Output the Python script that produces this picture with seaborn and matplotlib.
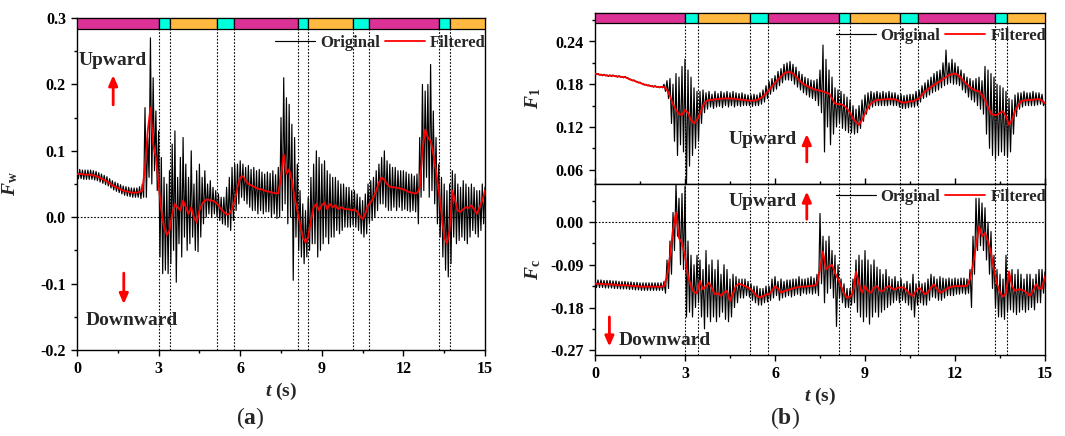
import numpy as np
import matplotlib
matplotlib.use("Agg")
import matplotlib.pyplot as plt
import seaborn as sns
from matplotlib.ticker import MultipleLocator, FormatStrFormatter

# ---------------- data ----------------
DT_RAW = 0.05   # s, sampling of the "Original" traces
DT_FILT = 0.1   # s, sampling of the "Filtered" traces

fw_raw = [
    0.072, 0.058, 0.072, 0.058, 0.071, 0.057, 0.071, 0.057, 0.071, 0.057,
    0.071, 0.057, 0.070, 0.056, 0.069, 0.055, 0.067, 0.053, 0.065, 0.051,
    0.063, 0.049, 0.061, 0.047, 0.058, 0.044, 0.055, 0.041, 0.053, 0.039,
    0.051, 0.037, 0.049, 0.035, 0.047, 0.033, 0.046, 0.032, 0.045, 0.031,
    0.044, 0.030, 0.044, 0.030, 0.044, 0.030, 0.046, 0.028, 0.050, 0.030,
    0.165, 0.030, 0.120, 0.060, 0.270, 0.050, 0.210, 0.070, 0.160, 0.040,
    0.130, -0.060, 0.090, -0.085, 0.060, -0.080, 0.050, -0.085, 0.070, -0.070,
    0.110, -0.050, 0.130, -0.098, 0.060, -0.040, 0.090, -0.060, 0.120, -0.030,
    0.080, -0.050, 0.060, -0.040, 0.100, -0.030, 0.050, -0.050, 0.070, -0.052,
    0.080, -0.030, 0.060, -0.010, 0.070, 0.000, 0.050, 0.005, 0.055, 0.000,
    0.045, 0.005, 0.040, 0.000, 0.035, -0.005, 0.030, -0.010, 0.030, -0.012,
    0.045, -0.015, 0.060, -0.020, 0.075, -0.005, 0.080, 0.010, 0.080, 0.020,
    0.085, 0.030, 0.080, 0.025, 0.075, 0.020, 0.078, 0.015, 0.072, 0.010,
    0.075, 0.010, 0.070, 0.005, 0.072, 0.010, 0.068, 0.005, 0.065, 0.008,
    0.068, 0.008, 0.066, 0.000, 0.070, 0.005, 0.064, -0.002, 0.075, 0.000,
    0.150, 0.010, 0.210, 0.020, 0.180, -0.010, 0.170, 0.000, 0.140, -0.095,
    0.120, -0.030, 0.080, -0.050, 0.040, -0.060, 0.020, -0.070, 0.010, -0.060,
    0.030, -0.050, 0.060, -0.040, 0.080, -0.040, 0.100, -0.060, 0.090, -0.050,
    0.080, -0.040, 0.085, -0.030, 0.070, -0.040, 0.065, -0.030, 0.060, -0.030,
    0.060, -0.020, 0.055, -0.025, 0.050, -0.020, 0.050, -0.015, 0.045, -0.015,
    0.045, -0.015, 0.040, -0.012, 0.040, -0.015, 0.035, -0.020, 0.030, -0.025,
    0.025, -0.030, 0.035, -0.025, 0.050, -0.010, 0.055, -0.005, 0.060, 0.000,
    0.070, 0.010, 0.080, 0.020, 0.090, 0.020, 0.100, 0.015, 0.085, 0.010,
    0.080, 0.010, 0.075, 0.015, 0.075, 0.010, 0.070, 0.015, 0.070, 0.010,
    0.070, 0.012, 0.068, 0.010, 0.065, 0.008, 0.065, 0.010, 0.062, 0.008,
    0.065, -0.010, 0.120, 0.030, 0.200, 0.040, 0.190, 0.060, 0.200, 0.030,
    0.230, 0.040, 0.160, 0.020, 0.120, -0.010, 0.080, -0.030, 0.060, -0.060,
    0.050, -0.080, 0.040, -0.090, 0.050, -0.070, 0.070, -0.030, 0.065, -0.040,
    0.050, -0.035, 0.045, -0.030, 0.055, -0.035, 0.050, -0.040, 0.045, -0.030,
    0.050, -0.020, 0.045, -0.025, 0.040, -0.030, 0.040, -0.020, 0.050, -0.010,
    0.045,
]

fw_filt = [
    0.065, 0.065, 0.065, 0.064, 0.064, 0.064, 0.063, 0.062, 0.060, 0.058,
    0.056, 0.054, 0.051, 0.048, 0.046, 0.044, 0.042, 0.040, 0.039, 0.038,
    0.037, 0.037, 0.037, 0.038, 0.040, 0.075, 0.130, 0.165, 0.110, 0.090,
    0.050, 0.010, -0.015, -0.027, -0.020, 0.005, 0.020, 0.015, 0.010, 0.025,
    0.015, 0.005, 0.015, 0.000, -0.008, 0.010, 0.020, 0.025, 0.027, 0.025,
    0.025, 0.022, 0.018, 0.012, 0.008, 0.004, 0.005, 0.012, 0.025, 0.045,
    0.060, 0.062, 0.055, 0.050, 0.048, 0.046, 0.044, 0.042, 0.042, 0.040,
    0.039, 0.038, 0.037, 0.036, 0.036, 0.060, 0.095, 0.065, 0.072, 0.055,
    0.030, 0.010, -0.010, -0.030, -0.038, -0.030, -0.005, 0.015, 0.020, 0.010,
    0.018, 0.022, 0.012, 0.020, 0.015, 0.018, 0.012, 0.015, 0.013, 0.012,
    0.012, 0.010, 0.012, 0.008, 0.002, -0.003, 0.005, 0.018, 0.022, 0.030,
    0.040, 0.052, 0.060, 0.056, 0.050, 0.046, 0.045, 0.045, 0.044, 0.043,
    0.042, 0.040, 0.038, 0.037, 0.036, 0.036, 0.045, 0.100, 0.132, 0.120,
    0.115, 0.095, 0.070, 0.040, 0.005, -0.030, -0.040, -0.020, 0.040, 0.025,
    0.010, 0.008, 0.012, 0.015, 0.014, 0.018, 0.012, 0.005, 0.015, 0.025,
    0.040,
]

fl_raw = [
    0.196, 0.194, 0.195, 0.193, 0.194, 0.192, 0.194, 0.192, 0.193, 0.191,
    0.193, 0.191, 0.193, 0.191, 0.192, 0.190, 0.192, 0.190, 0.191, 0.189,
    0.191, 0.189, 0.189, 0.187, 0.187, 0.185, 0.186, 0.184, 0.184, 0.182,
    0.183, 0.181, 0.181, 0.179, 0.180, 0.178, 0.179, 0.177, 0.178, 0.176,
    0.178, 0.176, 0.177, 0.175, 0.177, 0.175, 0.180, 0.170, 0.185, 0.160,
    0.188, 0.125, 0.180, 0.100, 0.195, 0.080, 0.190, 0.095, 0.205, 0.085,
    0.215, 0.040, 0.200, 0.065, 0.190, 0.080, 0.175, 0.090, 0.170, 0.100,
    0.170, 0.125, 0.172, 0.140, 0.168, 0.145, 0.170, 0.148, 0.166, 0.146,
    0.170, 0.148, 0.167, 0.149, 0.170, 0.147, 0.168, 0.150, 0.170, 0.148,
    0.168, 0.150, 0.170, 0.148, 0.168, 0.150, 0.167, 0.149, 0.168, 0.150,
    0.166, 0.150, 0.165, 0.150, 0.165, 0.149, 0.166, 0.150, 0.165, 0.150,
    0.168, 0.152, 0.172, 0.155, 0.178, 0.160, 0.184, 0.166, 0.188, 0.170,
    0.192, 0.173, 0.198, 0.178, 0.202, 0.182, 0.208, 0.186, 0.210, 0.186,
    0.212, 0.185, 0.208, 0.180, 0.204, 0.176, 0.198, 0.172, 0.194, 0.168,
    0.190, 0.165, 0.188, 0.162, 0.186, 0.160, 0.185, 0.157, 0.187, 0.150,
    0.200, 0.140, 0.235, 0.085, 0.215, 0.120, 0.200, 0.095, 0.190, 0.110,
    0.175, 0.120, 0.172, 0.125, 0.170, 0.118, 0.166, 0.115, 0.162, 0.112,
    0.158, 0.112, 0.150, 0.110, 0.145, 0.112, 0.150, 0.118, 0.158, 0.128,
    0.165, 0.138, 0.168, 0.145, 0.170, 0.148, 0.168, 0.150, 0.170, 0.150,
    0.168, 0.150, 0.170, 0.150, 0.168, 0.150, 0.170, 0.151, 0.168, 0.150,
    0.168, 0.150, 0.165, 0.148, 0.166, 0.146, 0.164, 0.146, 0.165, 0.147,
    0.166, 0.148, 0.166, 0.148, 0.170, 0.150, 0.172, 0.155, 0.178, 0.160,
    0.182, 0.162, 0.186, 0.165, 0.190, 0.168, 0.195, 0.170, 0.198, 0.172,
    0.200, 0.175, 0.210, 0.178, 0.228, 0.180, 0.210, 0.182, 0.215, 0.180,
    0.210, 0.180, 0.205, 0.178, 0.200, 0.172, 0.195, 0.168, 0.190, 0.162,
    0.188, 0.158, 0.185, 0.155, 0.188, 0.150, 0.190, 0.145, 0.185, 0.138,
    0.205, 0.110, 0.200, 0.090, 0.195, 0.080, 0.190, 0.075, 0.180, 0.080,
    0.178, 0.085, 0.175, 0.080, 0.170, 0.078, 0.160, 0.085, 0.158, 0.110,
    0.165, 0.135, 0.168, 0.145, 0.168, 0.148, 0.170, 0.150, 0.168, 0.150,
    0.168, 0.150, 0.170, 0.150, 0.168, 0.151, 0.168, 0.152, 0.166, 0.150,
    0.155,
]

fl_filt = [
    0.195, 0.194, 0.193, 0.193, 0.192, 0.192, 0.192, 0.191, 0.191, 0.190,
    0.190, 0.188, 0.186, 0.185, 0.183, 0.182, 0.180, 0.179, 0.178, 0.177,
    0.177, 0.176, 0.176, 0.176, 0.172, 0.163, 0.152, 0.144, 0.138, 0.137,
    0.144, 0.140, 0.130, 0.125, 0.130, 0.139, 0.150, 0.156, 0.158, 0.158,
    0.159, 0.159, 0.160, 0.160, 0.160, 0.160, 0.160, 0.159, 0.159, 0.158,
    0.158, 0.157, 0.157, 0.157, 0.158, 0.160, 0.163, 0.167, 0.172, 0.177,
    0.182, 0.187, 0.191, 0.195, 0.197, 0.197, 0.195, 0.191, 0.186, 0.182,
    0.179, 0.177, 0.175, 0.173, 0.172, 0.171, 0.170, 0.168, 0.167, 0.160,
    0.153, 0.152, 0.152, 0.150, 0.146, 0.140, 0.132, 0.127, 0.123, 0.130,
    0.139, 0.147, 0.153, 0.156, 0.158, 0.158, 0.159, 0.159, 0.159, 0.159,
    0.159, 0.157, 0.155, 0.154, 0.155, 0.156, 0.156, 0.158, 0.160, 0.165,
    0.170, 0.173, 0.176, 0.179, 0.182, 0.184, 0.187, 0.190, 0.193, 0.194,
    0.195, 0.193, 0.189, 0.184, 0.180, 0.176, 0.173, 0.171, 0.170, 0.165,
    0.158, 0.148, 0.139, 0.137, 0.137, 0.140, 0.142, 0.135, 0.123, 0.130,
    0.142, 0.150, 0.156, 0.157, 0.158, 0.158, 0.158, 0.159, 0.159, 0.157,
    0.153,
]

fc_raw = [
    -0.122, -0.138, -0.122, -0.138, -0.122, -0.138, -0.123, -0.139, -0.123, -0.139,
    -0.123, -0.139, -0.124, -0.140, -0.124, -0.140, -0.125, -0.141, -0.125, -0.141,
    -0.125, -0.141, -0.126, -0.142, -0.126, -0.142, -0.127, -0.143, -0.127, -0.143,
    -0.128, -0.144, -0.128, -0.144, -0.128, -0.144, -0.128, -0.144, -0.128, -0.144,
    -0.128, -0.144, -0.128, -0.144, -0.128, -0.144, -0.125, -0.150, -0.080, -0.140,
    -0.040, -0.110, 0.020, -0.060, 0.080, -0.030, 0.050, -0.090, 0.060, -0.100,
    0.075, -0.200, -0.040, -0.190, -0.070, -0.200, -0.090, -0.180, -0.070, -0.170,
    -0.080, -0.200, -0.100, -0.225, -0.060, -0.200, -0.090, -0.210, -0.080, -0.200,
    -0.100, -0.210, -0.080, -0.200, -0.110, -0.190, -0.090, -0.205, -0.100, -0.210,
    -0.120, -0.200, -0.110, -0.180, -0.115, -0.170, -0.120, -0.160, -0.120, -0.160,
    -0.120, -0.155, -0.125, -0.158, -0.130, -0.165, -0.135, -0.170, -0.135, -0.175,
    -0.140, -0.175, -0.140, -0.170, -0.135, -0.168, -0.135, -0.165, -0.120, -0.160,
    -0.115, -0.155, -0.125, -0.165, -0.120, -0.160, -0.125, -0.158, -0.122, -0.155,
    -0.122, -0.158, -0.120, -0.155, -0.120, -0.152, -0.115, -0.155, -0.120, -0.150,
    -0.120, -0.152, -0.118, -0.150, -0.115, -0.152, -0.118, -0.150, -0.110, -0.155,
    0.018, -0.130, -0.030, -0.170, -0.040, -0.150, -0.030, -0.140, -0.060, -0.160,
    -0.070, -0.220, -0.090, -0.160, -0.120, -0.170, -0.130, -0.180, -0.140, -0.180,
    -0.140, -0.175, -0.120, -0.170, -0.080, -0.190, -0.070, -0.200, -0.080, -0.210,
    -0.060, -0.200, -0.080, -0.215, -0.090, -0.200, -0.080, -0.190, -0.095, -0.200,
    -0.100, -0.190, -0.110, -0.185, -0.100, -0.180, -0.115, -0.175, -0.120, -0.170,
    -0.115, -0.165, -0.125, -0.170, -0.120, -0.165, -0.130, -0.170, -0.125, -0.175,
    -0.130, -0.185, -0.110, -0.200, -0.130, -0.175, -0.125, -0.170, -0.130, -0.175,
    -0.128, -0.175, -0.120, -0.165, -0.110, -0.158, -0.115, -0.160, -0.120, -0.165,
    -0.115, -0.165, -0.118, -0.160, -0.120, -0.155, -0.118, -0.155, -0.120, -0.155,
    -0.118, -0.152, -0.120, -0.152, -0.118, -0.150, -0.118, -0.152, -0.120, -0.150,
    -0.100, -0.180, -0.030, -0.110, 0.050, -0.060, 0.050, -0.050, 0.040, -0.060,
    0.030, -0.080, 0.000, -0.110, -0.020, -0.140, -0.070, -0.180, -0.100, -0.200,
    -0.110, -0.200, -0.120, -0.205, -0.070, -0.190, -0.110, -0.185, -0.100, -0.190,
    -0.110, -0.195, -0.100, -0.190, -0.110, -0.185, -0.120, -0.190, -0.110, -0.185,
    -0.110, -0.180, -0.120, -0.185, -0.110, -0.170, -0.100, -0.170, -0.100, -0.150,
    -0.105,
]

fc_filt = [
    -0.130, -0.130, -0.130, -0.131, -0.131, -0.131, -0.132, -0.132, -0.133, -0.133,
    -0.133, -0.134, -0.134, -0.135, -0.135, -0.136, -0.136, -0.136, -0.136, -0.136,
    -0.136, -0.136, -0.136, -0.135, -0.114, -0.072, -0.016, 0.020, -0.034, -0.044,
    -0.072, -0.114, -0.135, -0.148, -0.150, -0.124, -0.142, -0.135, -0.128, -0.140,
    -0.152, -0.150, -0.156, -0.148, -0.145, -0.166, -0.150, -0.134, -0.130, -0.132,
    -0.135, -0.138, -0.142, -0.149, -0.156, -0.159, -0.156, -0.153, -0.152, -0.145,
    -0.135, -0.140, -0.149, -0.146, -0.143, -0.142, -0.140, -0.138, -0.137, -0.136,
    -0.136, -0.135, -0.135, -0.134, -0.130, -0.100, -0.062, -0.100, -0.094, -0.090,
    -0.107, -0.120, -0.135, -0.150, -0.159, -0.158, -0.148, -0.104, -0.130, -0.149,
    -0.135, -0.145, -0.149, -0.138, -0.135, -0.145, -0.145, -0.138, -0.135, -0.140,
    -0.142, -0.138, -0.138, -0.138, -0.145, -0.152, -0.156, -0.145, -0.138, -0.145,
    -0.152, -0.148, -0.138, -0.131, -0.140, -0.149, -0.146, -0.142, -0.138, -0.136,
    -0.135, -0.135, -0.135, -0.135, -0.134, -0.120, -0.090, -0.051, -0.009, -0.030,
    -0.023, -0.040, -0.065, -0.100, -0.130, -0.149, -0.157, -0.150, -0.104, -0.135,
    -0.145, -0.142, -0.142, -0.145, -0.150, -0.156, -0.145, -0.131, -0.140, -0.140,
    -0.114,
]

# flow phases shown as the coloured strip on top
phase_edges = [0, 3.01, 3.42, 5.15, 5.76, 8.13, 8.49, 10.16, 10.75, 13.32, 13.73, 15]
phase_kind = ["m", "c", "o", "c", "m", "c", "o", "c", "m", "c", "o"]
phase_colors = {"m": "#DC3296", "c": "#00FFDC", "o": "#FFB941"}

# ---------------- style ----------------
sns.set_style("ticks")
plt.rcParams.update(
    {
        "font.family": ["Liberation Serif", "DejaVu Serif"],
        "font.weight": "bold",
        "axes.labelweight": "bold",
        "axes.unicode_minus": False,
        "mathtext.fontset": "custom",
        "mathtext.rm": "Liberation Serif:bold",
        "mathtext.it": "Liberation Serif:italic:bold",
        "mathtext.bf": "Liberation Serif:bold",
        "axes.edgecolor": "black",
        "axes.linewidth": 1.0,
        "xtick.color": "black",
        "ytick.color": "black",
    }
)

W, H = 1065, 436
fig = plt.figure(figsize=(W / 100, H / 100), dpi=100)
ax_a = fig.add_axes([77 / W, 86 / H, 408 / W, 332 / H])
ax_l = fig.add_axes([595 / W, 252 / H, 450 / W, 171 / H])
ax_c = fig.add_axes([595 / W, 81 / H, 450 / W, 171 / H])


def draw_series(ax, raw, filt):
    t_raw = np.arange(len(raw)) * DT_RAW
    t_filt = np.arange(len(filt)) * DT_FILT
    sns.lineplot(x=t_raw, y=raw, ax=ax, color="black", linewidth=0.85,
                 label="Original", estimator=None, zorder=2)
    sns.lineplot(x=t_filt, y=filt, ax=ax, color="red", linewidth=1.3,
                 label="Filtered", estimator=None, zorder=3)


def draw_phases(ax, frac=None, line_top=1.0):
    if frac is not None:
        for i, kind in enumerate(phase_kind):
            ax.axvspan(phase_edges[i], phase_edges[i + 1], ymin=1 - frac, ymax=1,
                       facecolor=phase_colors[kind], edgecolor="black", lw=0.9, zorder=6)
    for x in phase_edges[1:-1]:
        ax.axvline(x, ymin=0, ymax=line_top, color="black", lw=0.8,
                   ls=(0, (1.5, 1.5)), zorder=1)


def style_axis(ax, ymaj, fmt):
    ax.set_xlim(0, 15)
    ax.xaxis.set_major_locator(MultipleLocator(3))
    ax.xaxis.set_minor_locator(MultipleLocator(1.5))
    ax.yaxis.set_major_locator(MultipleLocator(ymaj))
    ax.yaxis.set_minor_locator(MultipleLocator(ymaj / 2))
    ax.yaxis.set_major_formatter(FormatStrFormatter(fmt))
    ax.tick_params(which="both", direction="out", width=1, labelsize=11.5)
    ax.tick_params(which="major", length=4.5)
    ax.tick_params(which="minor", length=2.5)
    for s in ax.spines.values():
        s.set_visible(True)
        s.set_linewidth(1.0)


def add_legend(ax, y):
    ax.legend(loc="upper right", bbox_to_anchor=(1.01, y), ncol=2, frameon=False,
              fontsize=12, handlelength=2.4, handletextpad=0.3, columnspacing=0.3,
              borderpad=0.2, borderaxespad=0)


def arrow(ax, x, y0, y1):
    ax.annotate("", xy=(x, y1), xytext=(x, y0),
                arrowprops=dict(arrowstyle="-|>,head_length=0.5,head_width=0.22",
                                color="red", lw=2, mutation_scale=12))


txt = dict(fontsize=14, fontweight="bold", ha="center", va="center")

# ---- (a) F_w ----
draw_series(ax_a, fw_raw, fw_filt)
style_axis(ax_a, 0.1, "%.1f")
ax_a.set_ylim(-0.2, 0.3)
draw_phases(ax_a, frac=0.032, line_top=1 - 0.032)
ax_a.axhline(0, color="black", lw=0.8, ls=(0, (1.5, 1.5)), zorder=1)
ax_a.set_xlabel(r"$t$ (s)", fontsize=14, labelpad=3)
ax_a.set_ylabel(r"$F_\mathrm{w}$", fontsize=14)
ax_a.yaxis.set_label_coords(-0.14, 0.5)
add_legend(ax_a, 0.96)
ax_a.text(1.33, 0.236, "Upward", **txt)
arrow(ax_a, 1.33, 0.165, 0.218)
ax_a.text(2.0, -0.156, "Downward", **txt)
arrow(ax_a, 1.72, -0.08, -0.135)

# ---- (b) top: F_1 ----
draw_series(ax_l, fl_raw, fl_filt)
style_axis(ax_l, 0.06, "%.2f")
ax_l.set_ylim(0.04, 0.28)
ax_l.tick_params(axis="x", which="both", direction="in", labelbottom=False)
draw_phases(ax_l, frac=0.058, line_top=1 - 0.058)
ax_l.set_xlabel("")
ax_l.set_ylabel(r"$F_\mathrm{1}$", fontsize=14)
ax_l.yaxis.set_label_coords(-0.116, 0.5)
add_legend(ax_l, 0.93)
ax_l.text(5.6, 0.102, "Upward", **txt)
arrow(ax_l, 7.06, 0.067, 0.114)

# ---- (b) bottom: F_c ----
draw_series(ax_c, fc_raw, fc_filt)
style_axis(ax_c, 0.09, "%.2f")
ax_c.set_ylim(-0.28, 0.08)
draw_phases(ax_c)
ax_c.axhline(0, color="black", lw=0.8, ls=(0, (1.5, 1.5)), zorder=1)
ax_c.set_xlabel(r"$t$ (s)", fontsize=14, labelpad=3)
ax_c.set_ylabel(r"$F_\mathrm{c}$", fontsize=14)
ax_c.yaxis.set_label_coords(-0.116, 0.5)
add_legend(ax_c, 0.99)
ax_c.text(5.6, 0.043, "Upward", **txt)
arrow(ax_c, 7.06, 0.0, 0.07)
ax_c.text(2.33, -0.25, "Downward", **txt)
arrow(ax_c, 0.48, -0.194, -0.268)

# panel labels
fig.text(250 / W, 1 - 418 / H, r"($\mathbf{a}$)", fontsize=17, fontweight="normal",
         ha="center", va="center")
fig.text(785 / W, 1 - 418 / H, r"($\mathbf{b}$)", fontsize=17, fontweight="normal",
         ha="center", va="center")

fig.savefig("out.png", dpi=100, facecolor="white")
